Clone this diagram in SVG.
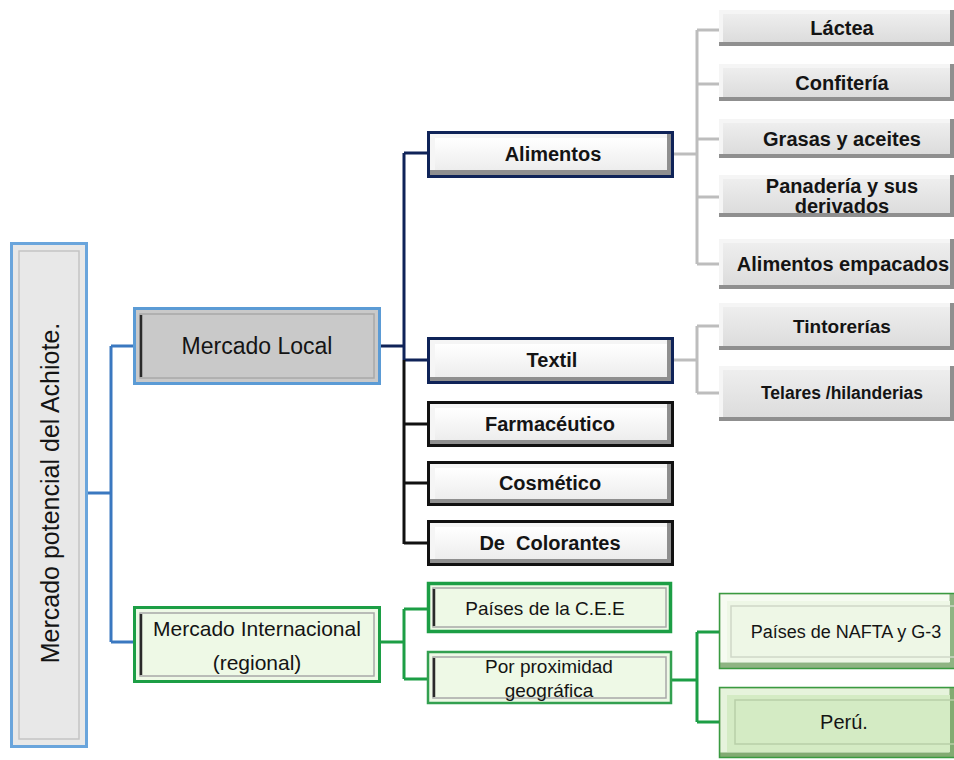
<svg xmlns="http://www.w3.org/2000/svg" width="954" height="760" viewBox="0 0 954 760">
<style>
text{font-family:"Liberation Sans",Arial,sans-serif;fill:#141414;text-anchor:middle;dominant-baseline:central}
.b{font-weight:bold;font-size:20px}
.r{font-size:21px}
.cb{fill:none;stroke-width:3}
.blue{stroke:#5b9bd5}
.navy{stroke:#0f2358}
.blk{stroke:#111}
.grn{stroke:#1c9e45}
.gry{stroke:#bdbdbd}
.dk{fill:#8f8f8f}
.lt{fill:#f5f5f5}
.face{fill:url(#gface)}
.gface{fill:url(#gsub)}
.io{fill:none;stroke:#a8a8a8;stroke-width:1.5}
.ll{stroke:#2a2a2a;stroke-width:2.5}
.con{fill:none;stroke-width:3}
</style>
<defs>
<linearGradient id="gface" x1="0" y1="0" x2="0" y2="1"><stop offset="0" stop-color="#ffffff"/><stop offset="1" stop-color="#ededed"/></linearGradient>
<linearGradient id="gsub" x1="0" y1="0" x2="0" y2="1"><stop offset="0" stop-color="#eeeeee"/><stop offset="1" stop-color="#dcdcdc"/></linearGradient>
</defs>

<g id="connectors">
<path class="con" stroke="#3a78c0" d="M88,493H111M111,346V642M111,346H133M111,642H133"/>
<path class="con" stroke="#0f2358" d="M381,346H404M404,153V360M404,153H427M404,360H427"/>
<path class="con" stroke="#111" d="M404,360V544M404,424H427M404,483H427M404,543H427"/>
<path class="con" stroke="#bdbdbd" d="M674,154H697M697,30V264M697,30H719M697,84H719M697,139H719M697,197H719M697,264H719"/>
<path class="con" stroke="#bdbdbd" d="M674,360H697M697,326V393M697,326H719M697,393H719"/>
<path class="con" stroke="#1c9e45" d="M381,642H404M404,609V679M404,609H427M404,679H427"/>
<path class="con" stroke="#1c9e45" d="M672,680H697M697,632V722M697,632H719M697,722H719"/>
</g>

<g id="root">
<rect x="11.5" y="243.5" width="75" height="503" fill="#e8e8e8" stroke="#6aa5dc" stroke-width="3"/>
<rect x="19" y="251" width="60" height="488" fill="none" stroke="#c4c4c4" stroke-width="1.5"/>
<text class="r" transform="translate(50,493) rotate(-90)" style="font-size:25px">Mercado potencial del Achiote.</text>
</g>

<g id="local">
<rect x="134.5" y="308.5" width="245" height="75" fill="#c9c9c9" stroke="#5b9bd5" stroke-width="3"/>
<rect x="140" y="314" width="234" height="64" class="io" stroke="#dcdcdc"/>
<line x1="141" y1="315" x2="141" y2="377" class="ll"/>
<text class="r" x="257" y="346" style="font-size:23px">Mercado Local</text>
</g>

<g id="internacional">
<rect x="134.5" y="607.5" width="245" height="74" fill="#eef9e6" stroke="#1c9e45" stroke-width="3"/>
<rect x="140" y="613" width="234" height="63" class="io" stroke="#c0c0c0"/>
<line x1="141" y1="614" x2="141" y2="675" class="ll"/>
<text class="r" x="257" y="628">Mercado Internacional</text>
<text class="r" x="257" y="662">(regional)</text>
</g>

<g id="alimentos">
<rect x="430" y="134" width="242" height="41" class="dk"/>
<rect x="430" y="134" width="237" height="36" class="lt"/>
<rect x="435" y="138" width="232" height="32" class="face"/>
<rect x="428.5" y="132.5" width="244" height="44" class="cb navy"/>
<text class="b" x="553" y="154">Alimentos</text>
</g>

<g id="textil">
<rect x="430" y="340" width="242" height="42" class="dk"/>
<rect x="430" y="340" width="237" height="37" class="lt"/>
<rect x="435" y="344" width="232" height="33" class="face"/>
<rect x="428.5" y="338.5" width="244" height="44" class="cb navy"/>
<text class="b" x="552" y="360">Textil</text>
</g>

<g id="farmaceutico">
<rect x="430" y="404" width="242" height="41" class="dk"/>
<rect x="430" y="404" width="237" height="36" class="lt"/>
<rect x="435" y="408" width="232" height="32" class="face"/>
<rect x="428.5" y="402.5" width="244" height="43" class="cb blk"/>
<text class="b" x="550" y="424">Farmacéutico</text>
</g>

<g id="cosmetico">
<rect x="430" y="464" width="242" height="40" class="dk"/>
<rect x="430" y="464" width="237" height="35" class="lt"/>
<rect x="435" y="468" width="232" height="31" class="face"/>
<rect x="428.5" y="462.5" width="244" height="42" class="cb blk"/>
<text class="b" x="550" y="483">Cosmético</text>
</g>

<g id="colorantes">
<rect x="430" y="523" width="242" height="41" class="dk"/>
<rect x="430" y="523" width="237" height="36" class="lt"/>
<rect x="435" y="527" width="232" height="32" class="face"/>
<rect x="428.5" y="521.5" width="244" height="43" class="cb blk"/>
<text class="b" x="550" y="543" xml:space="preserve">De  Colorantes</text>
</g>

<g id="lactea">
<rect x="719" y="10" width="235" height="36" class="dk"/>
<rect x="719" y="10" width="231" height="32" class="lt"/>
<rect x="723" y="14" width="227" height="28" class="gface"/>
<text class="b" x="842" y="28">Láctea</text>
</g>

<g id="confiteria">
<rect x="719" y="64" width="235" height="37" class="dk"/>
<rect x="719" y="64" width="231" height="33" class="lt"/>
<rect x="723" y="68" width="227" height="29" class="gface"/>
<text class="b" x="842" y="83">Confitería</text>
</g>

<g id="grasas">
<rect x="719" y="119" width="235" height="39" class="dk"/>
<rect x="719" y="119" width="231" height="35" class="lt"/>
<rect x="723" y="123" width="227" height="31" class="gface"/>
<text class="b" x="842" y="139">Grasas y aceites</text>
</g>

<g id="panaderia">
<rect x="719" y="175" width="235" height="42" class="dk"/>
<rect x="719" y="175" width="231" height="38" class="lt"/>
<rect x="723" y="179" width="227" height="34" class="gface"/>
<text class="b" x="842" y="186">Panadería y sus</text>
<text class="b" x="842" y="206">derivados</text>
</g>

<g id="empacados">
<rect x="719" y="239" width="235" height="50" class="dk"/>
<rect x="719" y="239" width="231" height="46" class="lt"/>
<rect x="723" y="243" width="227" height="42" class="gface"/>
<text class="b" x="843" y="264">Alimentos empacados</text>
</g>

<g id="tintorerias">
<rect x="719" y="303" width="235" height="47" class="dk"/>
<rect x="719" y="303" width="231" height="43" class="lt"/>
<rect x="723" y="307" width="227" height="39" class="gface"/>
<text class="b" x="842" y="326" style="font-size:19px">Tintorerías</text>
</g>

<g id="telares">
<rect x="719" y="366" width="235" height="55" class="dk"/>
<rect x="719" y="366" width="231" height="51" class="lt"/>
<rect x="723" y="370" width="227" height="47" class="gface"/>
<text class="b" x="842" y="393" style="font-size:17.5px">Telares /hilanderias</text>
</g>

<g id="cee">
<rect x="428.5" y="583.5" width="242" height="48" fill="#eef9e6" stroke="#1c9e45" stroke-width="3.5"/>
<rect x="433" y="588" width="233" height="39" class="io" stroke="#b8b8b8"/>
<line x1="434" y1="589" x2="434" y2="626" class="ll"/>
<text class="r" x="545" y="608" style="font-size:19px">Países de la C.E.E</text>
</g>

<g id="proximidad">
<rect x="428" y="652" width="243" height="51" fill="#eef9e6" stroke="#33a050" stroke-width="2.5"/>
<rect x="433" y="657" width="233" height="41" class="io" stroke="#b8b8b8"/>
<line x1="434" y1="658" x2="434" y2="697" class="ll"/>
<text class="r" x="549" y="666" style="font-size:19px">Por proximidad</text>
<text class="r" x="549" y="690" style="font-size:19px">geográfica</text>
</g>

<g id="nafta">
<rect x="719.5" y="593.5" width="236" height="75" fill="#8fb483" stroke="#3a9a40" stroke-width="1.5"/>
<rect x="720.5" y="594.5" width="229" height="68" fill="#f6fbf1"/>
<rect x="727" y="601" width="223" height="61" fill="#eef7e6"/>
<rect x="731" y="606" width="230" height="51" fill="none" stroke="#cfd8c8" stroke-width="1.5"/>
<text class="r" x="846" y="632" style="font-size:18px">Países de NAFTA y G-3</text>
</g>

<g id="peru">
<rect x="719.5" y="687.5" width="236" height="70" fill="#82ab72" stroke="#3a9a40" stroke-width="1.5"/>
<rect x="720.5" y="688.5" width="229" height="64" fill="#e6f3dc"/>
<rect x="727" y="695" width="223" height="57" fill="#d4ebc4"/>
<rect x="735" y="700" width="226" height="44" fill="none" stroke="#b8cfa8" stroke-width="1.5"/>
<text class="r" x="844" y="722" style="font-size:20px">Perú.</text>
</g>
</svg>
